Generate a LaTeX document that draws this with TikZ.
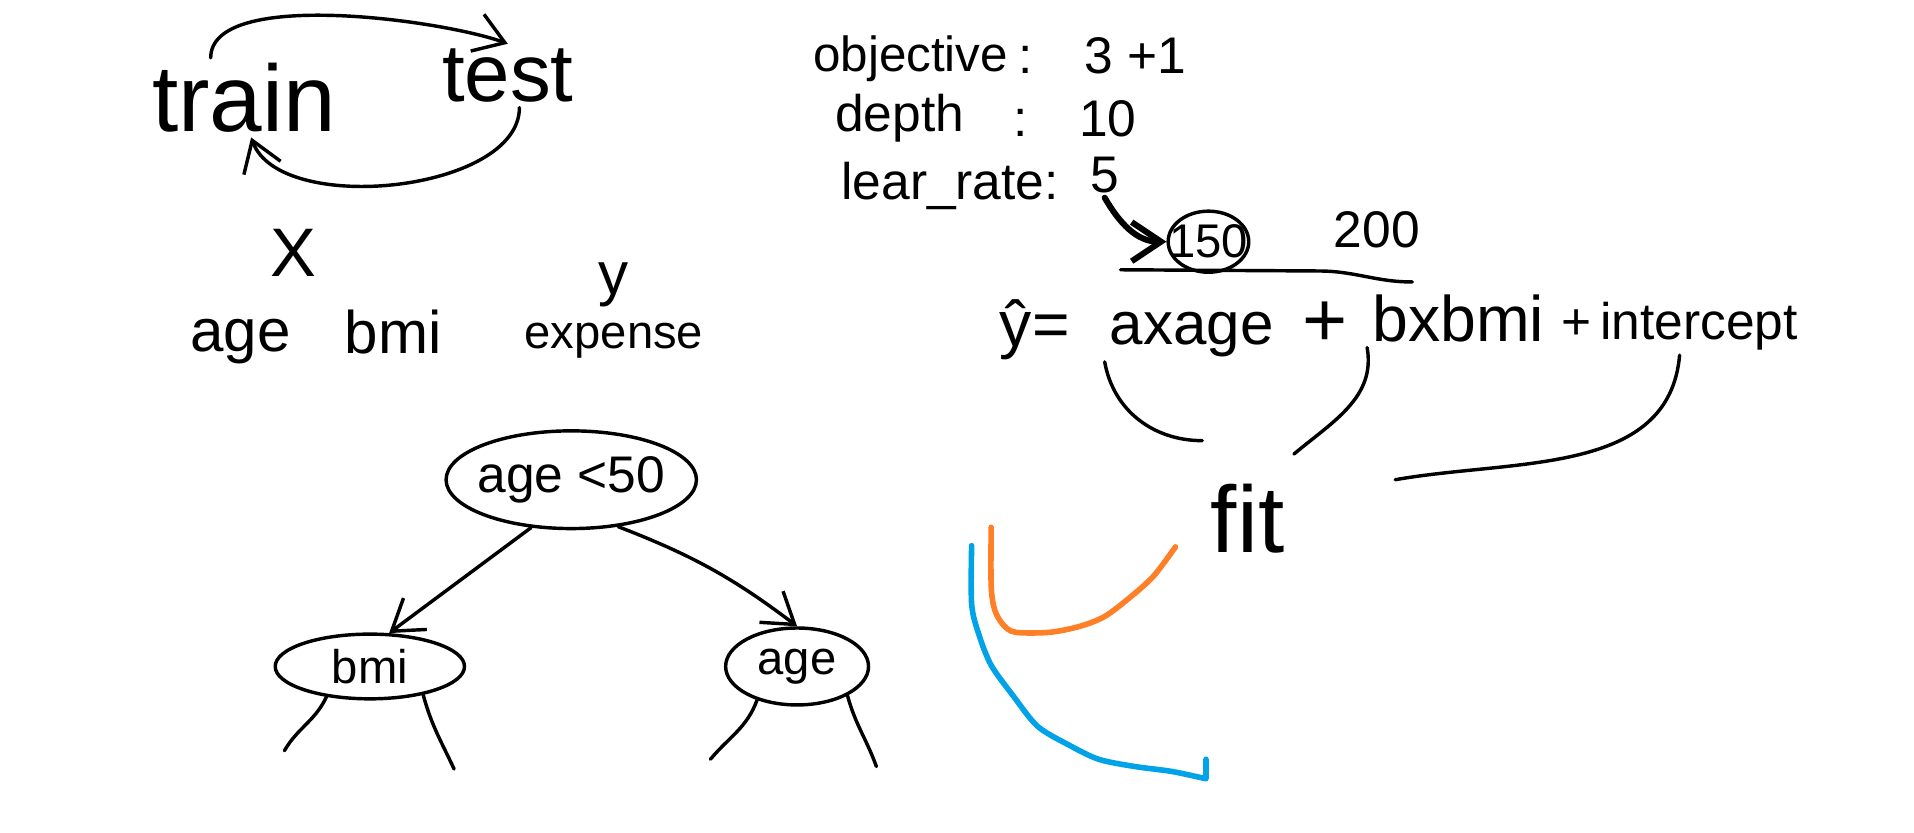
\documentclass[tikz,border=0pt]{standalone}
\usepackage{fontspec}
\setmainfont{Liberation Sans}
\usepackage{xcolor}
\usetikzlibrary{arrows.meta,positioning,shapes.geometric}
\definecolor{penorange}{HTML}{FF7F27}
\definecolor{penblue}{HTML}{00A2E8}
\tikzset{
  ink/.style={line width=0.8pt, line cap=round, line join=round},
  word/.style={inner sep=1pt, font=\fontsize{#1}{#1}\selectfont},
  word/.default=12,
  flow/.style={ink, -{Straight Barb[length=2.4mm, width=3.2mm]}},
  split/.style={draw, ellipse, ink, inner sep=-2pt, font=\fontsize{12}{12}\selectfont},
  ring/.style={draw, ellipse, ink, minimum width=0.66cm, minimum height=0.5cm,
               inner sep=-1mm, font=\fontsize{11}{11}\selectfont},
  curve/.style={line width=1.3pt, line cap=round, line join=round},
}

\begin{document}
\begin{tikzpicture}[x=0.01cm, y=-0.01cm, node distance=0.1cm]
  \useasboundingbox (0,0) rectangle (1568,682);
  % train / test loop
  \node[word=22] (train) at (200,80) {train};
  \node[word=19] (test) at (416,62) {test};
  \draw[flow] (train.130) to[out=90, in=160, looseness=0.6] (test.north);
  \draw[flow] (test.-70) to[out=-90, in=-70, looseness=0.8] (train.-80);
  % features and target
  \node[word=16] (xlab) at (240,207) {X};
  \node[word=14] (age) at (197,280) {age};
  \node[word=14] (bmi) at (322,272) {bmi};
  \node[word=14] (ylab) at (503,233) {y};
  \node[word=11, below=0.05cm of ylab] (expense) {expense};
  % hyperparameters
  \node[word=11.5, anchor=west] (obj) at (662,48) {objective};
  \node[word=12, anchor=west] (objv) at (830,46) {:\quad 3 +1};
  \node[word=12, anchor=west] (dep) at (680,97) {depth};
  \node[word=12, anchor=west] (depv) at (826,97) {:\quad 10};
  \node[word=12, anchor=west] (lr) at (685,152) {lear\_rate:};
  \node[word=12] (lrv) at (905,143) {5};
  \node[ring] (c150) at (990,198) {150};
  \node[word=12] (c200) at (1128,188) {200};
  \draw[flow, line width=1.4pt] (lrv.south) to[out=-60, in=180] (c150.west);
  \coordinate (rule-a) at (918,221);
  \coordinate (rule-m) at (1080,222);
  \coordinate (rule-b) at (1157,231);
  \draw[ink] (rule-a) -- (rule-m) to[out=0, in=180] (rule-b);
  % linear model
  \node[word=15, anchor=base west] (yhat) at (815,284) {ŷ=};
  \node[word=14, anchor=base west] (aage) at (905,282) {axage};
  \node[word=18, anchor=base west] (plus) at (1063,284) {+};
  \node[word=15, anchor=base west] (bbmi) at (1120,280) {bxbmi};
  \node[word=12, anchor=base west] (icpt) at (1275,278) {+\,intercept};
  \node[word=22] (fit) at (1022,425) {fit};
  \coordinate (hook-a) at (985,361);
  \coordinate (hook-b) at (1060,372);
  \coordinate (hook-c) at (1143,393);
  \draw[ink] (aage.south west) to[out=-80, in=180] (hook-a);
  \draw[ink] (bbmi.south west) to[out=-80, in=40] (hook-b);
  \draw[ink] (icpt.south) to[out=-95, in=10] (hook-c);
  % decision tree
  \node[split, minimum width=2.05cm, minimum height=0.8cm] (root) at (468,393) {age <50};
  \node[split, minimum width=1.55cm, minimum height=0.53cm,
        font=\fontsize{11}{11}\selectfont] (lchild) at (303,546) {bmi};
  \node[split, minimum width=1.17cm, minimum height=0.63cm,
        font=\fontsize{11}{11}\selectfont] (rchild) at (653,546) {age};
  \draw[flow] (root.230) -- (lchild.60);
  \draw[flow] (root.-45) to[bend left=8] (rchild.north);
  \coordinate (leaf-1) at (233,615);
  \coordinate (leaf-2) at (372,630);
  \coordinate (leaf-3) at (582,622);
  \coordinate (leaf-4) at (718,628);
  \draw[ink] (lchild.215) to[out=-115, in=60] (leaf-1);
  \draw[ink] (lchild.-28) to[out=-75, in=115] (leaf-2);
  \draw[ink] (rchild.220) to[out=-110, in=50] (leaf-3);
  \draw[ink] (rchild.-30) to[out=-75, in=110] (leaf-4);
  % error curves
  \draw[curve, penorange] plot[smooth] coordinates {(812,432) (812,480) (815,500)
    (822,512) (832,518) (860,518) (885,513) (905,505) (925,490) (945,472) (963,448)};
  \draw[curve, penblue] plot[smooth] coordinates {(796,447) (796,495) (802,520)
    (812,545) (830,570) (850,595) (875,610) (900,622) (930,628) (960,632) (988,638)}
    -- (988,622);
\end{tikzpicture}
\end{document}
